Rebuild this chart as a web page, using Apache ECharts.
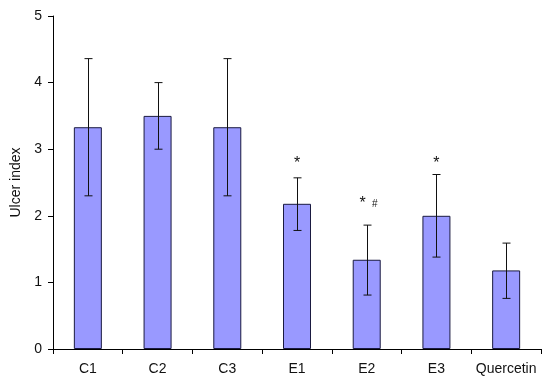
<!DOCTYPE html>
<html>
<head>
<meta charset="utf-8">
<script src="https://cdn.jsdelivr.net/npm/echarts@6/dist/echarts.min.js"></script>
<style>html,body{margin:0;padding:0;background:#fff}#c{width:550px;height:387px}</style>
</head>
<body>
<div id="c"></div>
<script>
var categories = ['C1', 'C2', 'C3', 'E1', 'E2', 'E3', 'Quercetin'];
var means = [3.33, 3.5, 3.33, 2.18, 1.34, 2.0, 1.18];
var errLow = [2.3, 3.0, 2.3, 1.78, 0.81, 1.38, 0.76];
var errHigh = [4.36, 4.0, 4.36, 2.57, 1.86, 2.62, 1.59];
var starMarks = ['', '', '', '*', '*', '*', ''];
var hashMarks = ['', '', '', '', '#', '', ''];
var markY = [null, null, null, 2.85, 2.24, 2.85, null];
var yTicks = [0, 1, 2, 3, 4, 5];

var font = 'Liberation Sans, Arial, sans-serif';
var chart = echarts.init(document.getElementById('c'), null, {renderer: 'canvas'});

var errData = categories.map(function (c, i) { return [i, errLow[i], errHigh[i]]; });
var markData = categories.map(function (c, i) { return [i, markY[i] == null ? 0 : markY[i], starMarks[i], hashMarks[i]]; });

chart.setOption({
  animation: false,
  backgroundColor: '#fff',
  grid: {left: 53, right: 9, top: 16, bottom: 38},
  xAxis: {
    type: 'category',
    data: categories,
    boundaryGap: true,
    axisLine: {lineStyle: {color: '#000', width: 1}},
    axisTick: {show: true, interval: 0, length: 5, lineStyle: {color: '#000'}, alignWithLabel: false},
    axisLabel: {interval: 0, hideOverlap: false, color: '#111', fontFamily: font, fontSize: 14, margin: 13}
  },
  yAxis: {
    type: 'value',
    min: yTicks[0],
    max: yTicks[yTicks.length - 1],
    interval: 1,
    name: 'Ulcer index',
    nameLocation: 'middle',
    nameGap: 28,
    nameTextStyle: {color: '#111', fontFamily: font, fontSize: 14},
    axisLine: {show: true, lineStyle: {color: '#000', width: 1}},
    axisTick: {show: true, length: 5, lineStyle: {color: '#000'}},
    axisLabel: {color: '#111', fontFamily: font, fontSize: 14, margin: 11},
    splitLine: {show: false}
  },
  series: [
    {
      type: 'bar',
      data: means,
      barWidth: 28,
      itemStyle: {color: '#9999ff', borderColor: '#1a1a40', borderWidth: 1}
    },
    {
      type: 'custom',
      data: errData,
      z: 10,
      renderItem: function (params, api) {
        var x = api.value(0);
        var lo = api.coord([x, api.value(1)]);
        var hi = api.coord([x, api.value(2)]);
        var cx = Math.round(lo[0]) + 0.5;
        var st = {stroke: '#111', lineWidth: 1};
        return {
          type: 'group',
          children: [
            {type: 'line', shape: {x1: cx, y1: lo[1], x2: cx, y2: hi[1]}, style: st},
            {type: 'line', shape: {x1: cx - 4, y1: lo[1], x2: cx + 4, y2: lo[1]}, style: st},
            {type: 'line', shape: {x1: cx - 4, y1: hi[1], x2: cx + 4, y2: hi[1]}, style: st}
          ]
        };
      }
    },
    {
      type: 'custom',
      data: markData,
      z: 10,
      renderItem: function (params, api) {
        var idx = params.dataIndex;
        if (markY[idx] == null) return null;
        var p = api.coord([api.value(0), api.value(1)]);
        var children = [];
        var star = starMarks[idx], hash = hashMarks[idx];
        var sx = hash ? p[0] - 4 : p[0];
        children.push({type: 'text', style: {text: star, x: sx, y: p[1] + 4, align: 'center', verticalAlign: 'middle', fill: '#111', font: '16px ' + font}});
        if (hash) {
          children.push({type: 'text', style: {text: hash, x: p[0] + 8, y: p[1] + 4, align: 'center', verticalAlign: 'middle', fill: '#111', font: '10px ' + font}});
        }
        return {type: 'group', children: children};
      }
    }
  ]
});
</script>
</body>
</html>
